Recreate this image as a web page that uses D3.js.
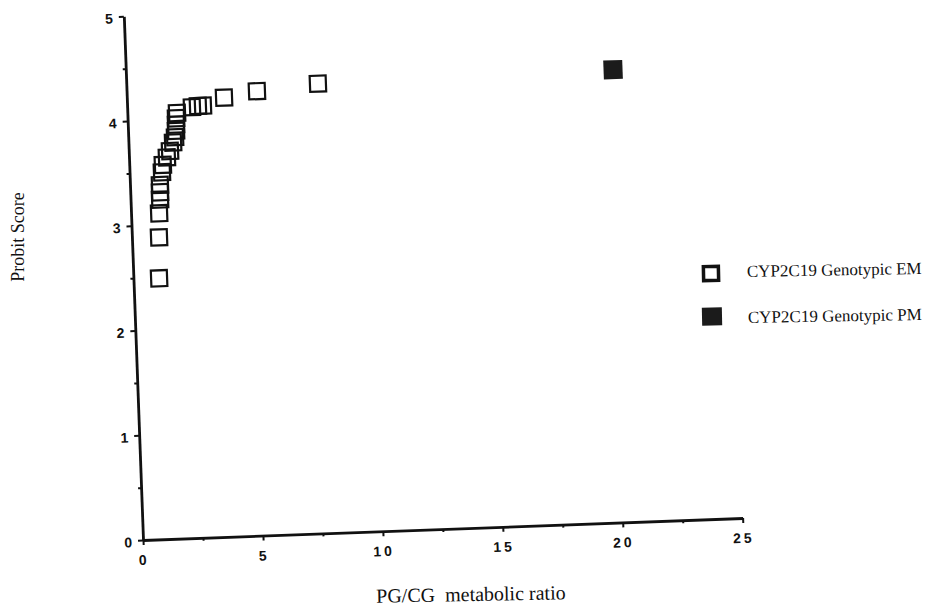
<!DOCTYPE html>
<html><head><meta charset="utf-8">
<script src="https://cdn.jsdelivr.net/npm/d3@7"></script>
<style>body{margin:0;background:#fff}</style>
</head><body>
<svg id="c" width="928" height="612"></svg>
<script>
// ---- data ----
const emX = [1.07,1.13,1.17,1.23,1.24,1.25,1.35,1.40,1.58,1.72,1.86,1.95,2.00,2.01,2.02,2.07,2.70,2.95,3.16,4.05,5.43,7.98];
const emY = [2.49,2.88,3.11,3.24,3.31,3.38,3.50,3.57,3.64,3.70,3.78,3.83,3.89,3.95,4.01,4.06,4.11,4.12,4.12,4.19,4.24,4.29];
const pmX = [20.29];
const pmY = [4.32];
const xTicks = [0,5,10,15,20,25];
const xMinor = [2.5,7.5,12.5,17.5,22.5];
const yTicks = [0,1,2,3,4,5];
const yMinor = [0.5,1.5,2.5,3.5,4.5];
const legendLabels = ["CYP2C19 Genotypic EM","CYP2C19 Genotypic PM"];
const xTitle = "PG/CG  metabolic ratio";
const yTitle = "Probit Score";

// ---- chart ----
const svg = d3.select("#c");
const x = d3.scaleLinear().domain([0,25]).range([143,743]);
const y = d3.scaleLinear().domain([0,5]).range([540,16]);
const ink = "#111";

const g = svg.append("g").attr("transform","rotate(-2.1,143,540)");

// minor ticks
g.append("g").attr("transform",`translate(0,${y(0)})`)
  .call(d3.axisBottom(x).tickValues(xMinor).tickSize(3).tickFormat(""))
  .call(s=>s.select(".domain").remove())
  .call(s=>s.selectAll("line").attr("stroke",ink).attr("stroke-width",2));
g.append("g").attr("transform",`translate(${x(0)},0)`)
  .call(d3.axisLeft(y).tickValues(yMinor).tickSize(3).tickFormat(""))
  .call(s=>s.select(".domain").remove())
  .call(s=>s.selectAll("line").attr("stroke",ink).attr("stroke-width",2));

// major axes
const xa = g.append("g").attr("transform",`translate(0,${y(0)})`)
  .call(d3.axisBottom(x).tickValues(xTicks).tickSize(5).tickSizeOuter(0).tickPadding(10).tickFormat(d3.format("d")));
xa.select(".domain").attr("stroke",ink).attr("stroke-width",2.8);
xa.selectAll("line").attr("stroke",ink).attr("stroke-width",2);
xa.selectAll("text").attr("fill",ink).style("font-family","'Liberation Sans',Arial,sans-serif")
  .style("font-size","14px").style("font-weight","bold").style("letter-spacing","3px");

const ya = g.append("g").attr("transform",`translate(${x(0)},0)`)
  .call(d3.axisLeft(y).tickValues(yTicks).tickSize(5).tickSizeOuter(0).tickPadding(6).tickFormat(d3.format("d")));
ya.select(".domain").attr("stroke",ink).attr("stroke-width",2.8);
ya.selectAll("line").attr("stroke",ink).attr("stroke-width",2);
ya.selectAll("text").attr("fill",ink).attr("dy","0.45em").style("font-family","'Liberation Sans',Arial,sans-serif")
  .style("font-size","14px").style("font-weight","bold");

// EM points (open squares)
const em = emX.map((v,i)=>({x:v,y:emY[i]}));
const s1 = 16;
g.append("g").selectAll("rect").data(em).join("rect")
  .attr("x",d=>x(d.x)-s1/2).attr("y",d=>y(d.y)-s1/2)
  .attr("width",s1).attr("height",s1)
  .attr("fill","none").attr("stroke",ink).attr("stroke-width",2.2);

// PM points (filled squares)
const pm = pmX.map((v,i)=>({x:v,y:pmY[i]}));
const s2 = 19;
g.append("g").selectAll("rect").data(pm).join("rect")
  .attr("x",d=>x(d.x)-s2/2).attr("y",d=>y(d.y)-s2/2)
  .attr("width",s2).attr("height",s2)
  .attr("fill","#1b1b1b");

// axis titles
svg.append("text").attr("transform","translate(471,601) rotate(-1)")
  .attr("text-anchor","middle").style("white-space","pre")
  .style("font-family","'Liberation Serif','Times New Roman',serif").style("font-size","20px")
  .attr("fill",ink).text(xTitle);
svg.append("text").attr("transform","translate(24,237) rotate(-90)")
  .attr("text-anchor","middle")
  .style("font-family","'Liberation Serif','Times New Roman',serif").style("font-size","18px")
  .attr("fill",ink).text(yTitle);

// legend
const leg = [{sx:711,sy:273.5,tx:747,ty:277,fill:false},{sx:712,sy:316.5,tx:748,ty:323,fill:true}];
leg.forEach((L,i)=>{
  const lg = svg.append("g").attr("transform",`rotate(-1.2,${L.sx},${L.sy})`);
  if(L.fill){
    lg.append("rect").attr("x",L.sx-10).attr("y",L.sy-9).attr("width",20).attr("height",18).attr("fill","#1b1b1b");
  } else {
    lg.append("rect").attr("x",L.sx-7.5).attr("y",L.sy-7).attr("width",15).attr("height",14)
      .attr("fill","none").attr("stroke",ink).attr("stroke-width",3.5);
  }
  svg.append("text").attr("transform",`translate(${L.tx},${L.ty}) rotate(-1)`)
    .style("font-family","'Liberation Serif','Times New Roman',serif").style("font-size","17px")
    .attr("fill",ink).text(legendLabels[i]);
});
</script>
</body></html>
